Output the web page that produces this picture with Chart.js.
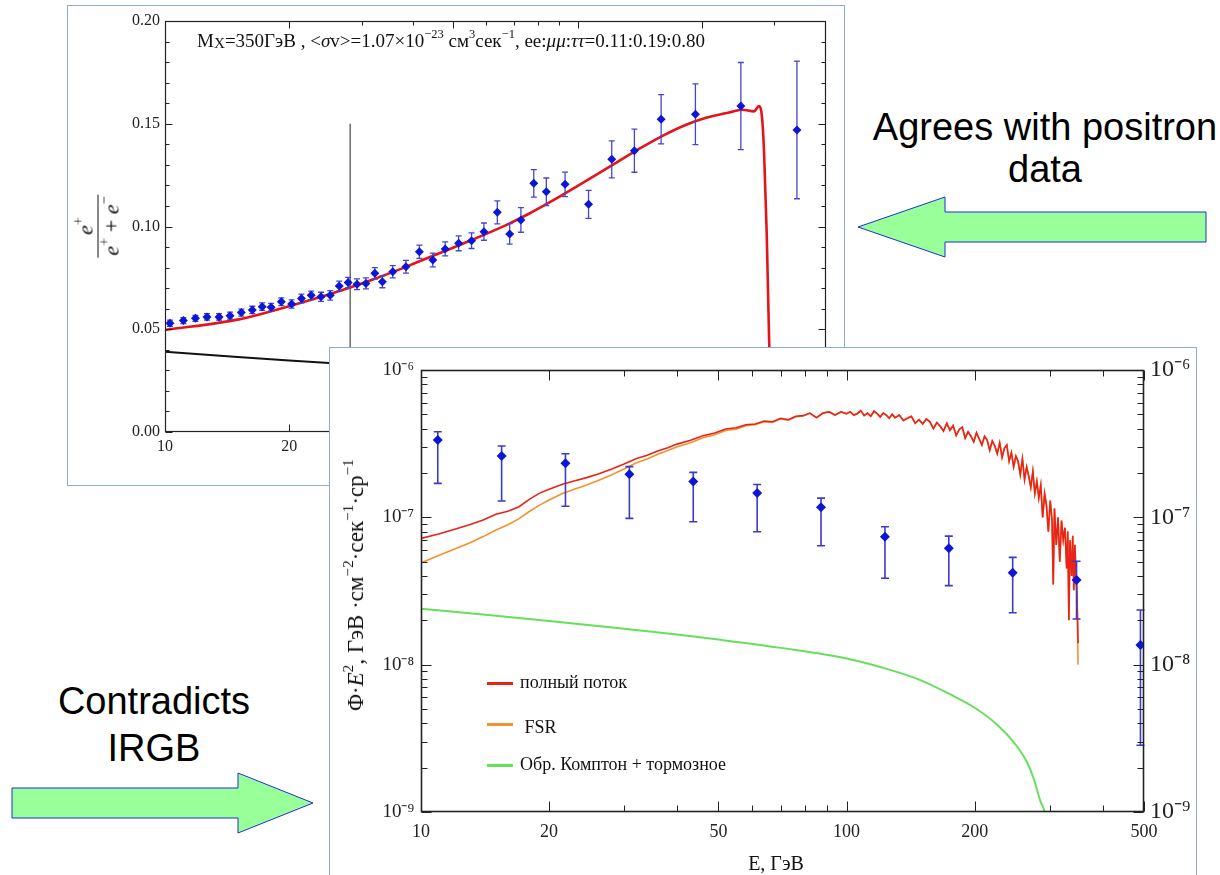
<!DOCTYPE html>
<html lang="ru">
<head>
<meta charset="utf-8">
<title>Positron fraction and gamma-ray flux</title>
<script src="https://cdn.jsdelivr.net/npm/chart.js"></script>
<style>
  html, body { margin: 0; padding: 0; background: #fff; }
  #slide { position: relative; width: 1220px; height: 875px; overflow: hidden;
           font-family: 'Liberation Serif', 'Times New Roman', serif; color: #111; }
  #arrows { position: absolute; left: 0; top: 0; }
  .note { position: absolute; font-family: 'Liberation Sans', Arial, sans-serif;
          font-size: 38px; text-align: center; color: #000; white-space: nowrap; }
  .panel { position: absolute; box-sizing: border-box; border: 1px solid #8eaad6; background: #fff; }
  .panel canvas { position: absolute; left: 0; top: 0; }
  .panel .txt { position: absolute; white-space: nowrap; }
  sup { font-size: 0.66em; line-height: 0; position: relative; top: -0.1em; vertical-align: super; }
  sub { font-size: 0.8em; line-height: 0; vertical-align: baseline; position: relative; top: 0.05em; }
  #fracCaption { left: 129px; top: 25px; font-size: 19px; line-height: 19px; }
  #fracYLabel { left: 30px; top: 220px; transform: translate(-50%, -50%) rotate(-90deg);
                display: flex; flex-direction: column; align-items: center; font-size: 22px; line-height: 25px; }
  #fracYLabel .den { border-top: 1px solid #111; padding: 0 2px; }
  #gammaYLabel { left: 26px; top: 237px; transform: translate(-50%, -50%) rotate(-90deg); font-size: 23px; line-height: 24px; }
  #gammaXLabel { left: 346px; top: 505px; width: 200px; text-align: center; font-size: 20px; line-height: 20px; }
  .key { position: absolute; left: 157px; width: 26px; height: 3px; }
  .keytxt { left: 190px; font-size: 18px; line-height: 20px; }
</style>
</head>
<body>
<div id="slide">
  <svg id="arrows" width="1220" height="875">
    <polygon points="858,227 945,197 945,212 1206,212 1206,242 945,242 945,257" fill="#99ff99" stroke="#1a2ee0" stroke-width="1"/>
    <polygon points="313,803 238,773 238,788 12,788 12,818 238,818 238,833" fill="#99ff99" stroke="#1a2ee0" stroke-width="1"/>
  </svg>
  <div class="note" style="left:860px; top:106px; width:370px; line-height:42px;">Agrees with positron<br>data</div>
  <div class="note" style="left:4px; top:678px; width:300px; line-height:47px;">Contradicts<br>IRGB</div>

  <div class="panel" id="fracPanel" style="left:67px; top:5px; width:778px; height:481px; z-index:1;">
    <canvas id="fracChart" width="776" height="479"></canvas>
    <div class="txt" id="fracCaption">M<sub>X</sub>=350ГэВ , &lt;<i>σ</i>v&gt;=1.07×10<sup>−23</sup> см<sup>3</sup>сек<sup>−1</sup>, ee:<i>μμ</i>:<i>ττ</i>=0.11:0.19:0.80</div>
    <div class="txt" id="fracYLabel"><span class="num"><i>e</i><sup>+</sup></span><span class="den"><i>e</i><sup>+</sup> + <i>e</i><sup>−</sup></span></div>
  </div>

  <div class="panel" id="gammaPanel" style="left:329px; top:347px; width:868px; height:540px; z-index:2;">
    <canvas id="gammaChart" width="866" height="527"></canvas>
    <div class="txt" id="gammaYLabel">Φ·<i>E</i><sup>2</sup>, ГэВ ·см<sup>−2</sup>·сек<sup>−1</sup>·ср<sup>−1</sup></div>
    <div class="txt" id="gammaXLabel">E, ГэВ</div>
    <div class="key" style="top:334px; background:#e8231a;"></div>
    <div class="txt keytxt" style="top:324px;">полный поток</div>
    <div class="key" style="top:375px; background:#f0922e;"></div>
    <div class="txt keytxt" style="top:369px;">&nbsp;FSR</div>
    <div class="key" style="top:416px; background:#66e05a;"></div>
    <div class="txt keytxt" style="top:406px;">Обр. Комптон + тормозное</div>
  </div>
</div>

<script>
// ---- positron fraction panel ----
const posE = [10.28, 11.08, 11.85, 12.64, 13.52, 14.38, 15.31, 16.28, 17.20, 18.08,
              19.14, 20.27, 21.41, 22.61, 23.88, 25.15, 26.44, 27.79, 29.20, 30.69,
              32.25, 33.64, 35.64, 38.37, 41.36, 44.57, 47.76, 51.48, 55.33, 59.29,
              63.89, 68.45, 72.88, 78.31, 83.99, 93.25, 106.3, 121.0, 137.3, 159.4,
              193.0, 248.7, 340.1];
const posFrac = [0.0529, 0.0542, 0.0553, 0.0560, 0.0560, 0.0566, 0.0581, 0.0594, 0.0610, 0.0607,
                 0.0634, 0.0623, 0.0650, 0.0665, 0.0658, 0.0665, 0.0710, 0.0727, 0.0719, 0.0723,
                 0.0772, 0.0731, 0.0780, 0.0804, 0.0877, 0.0837, 0.0891, 0.0918, 0.0931, 0.0975,
                 0.1069, 0.0964, 0.1032, 0.1210, 0.1169, 0.1205, 0.1108, 0.1327, 0.1369, 0.1522,
                 0.1546, 0.1586, 0.1470];
const posErr = [0.0015, 0.0015, 0.0015, 0.0016, 0.0016, 0.0017, 0.0017, 0.0018, 0.0018, 0.0019,
                0.0019, 0.0020, 0.0021, 0.0021, 0.0022, 0.0023, 0.0024, 0.0025, 0.0026, 0.0027,
                0.0028, 0.0029, 0.0030, 0.0031, 0.0032, 0.0033, 0.0034, 0.0036, 0.0038, 0.0042,
                0.0056, 0.0050, 0.0060, 0.0067, 0.0067, 0.0060, 0.0068, 0.0090, 0.0105, 0.0120,
                0.0148, 0.0212, 0.0335];
const modelE = [10, 15.1, 19.4, 24.8, 28.1, 31.9, 36.9, 40.8, 52.5, 67.3,
                76.2, 86.3, 97.8, 110.6, 125.3, 141.6, 160.2, 182.1, 205.9, 232.8,
                250.3, 267.6, 275.2, 279.9, 283.0, 287.3, 291.5, 296];
const modelFrac = [0.0496, 0.0548, 0.0605, 0.0668, 0.0703, 0.0742, 0.0790, 0.0826, 0.0915, 0.1008,
                   0.1062, 0.1122, 0.1186, 0.1250, 0.1316, 0.1380, 0.1440, 0.1493, 0.1530, 0.1555,
                   0.1568, 0.1560, 0.1586, 0.1530, 0.1370, 0.0970, 0.0410, 0];
const bgE = [10, 15, 20, 25, 30, 40];
const bgFrac = [0.0390, 0.0365, 0.0348, 0.0336, 0.0327, 0.0310];
const markerE = 28.1;
const markerTop = 0.15;

const fracXTicks = [10, 20, 50, 100, 200];
const fracXLabels = ['10', '20', '50', '100', '200'];
const fracXMinor = [30, 40, 60, 70, 80, 90, 300];
const fracYTicks = [0, 0.05, 0.10, 0.15, 0.20];
const fracYLabels = ['0.00', '0.05', '0.10', '0.15', '0.20'];
const fracYMinor = [0.01, 0.02, 0.03, 0.04, 0.06, 0.07, 0.08, 0.09,
                    0.11, 0.12, 0.13, 0.14, 0.16, 0.17, 0.18, 0.19];

// ---- gamma-ray flux panel ----
const gammaE = [10, 11, 12, 13, 14, 15, 16, 17, 18, 19,
                20, 21.5, 23, 24.5, 26, 28, 30, 32, 34, 36,
                38, 40, 43, 46, 49, 52, 55, 58, 61, 64,
                67, 70, 73, 76, 79, 82, 85, 88, 91, 94,
                97, 100,
                102, 104, 106, 108, 110, 112, 114, 116, 118, 120, 122, 124, 126, 128, 130,
                133, 136, 139, 142, 145, 148, 151, 154, 157, 160,
                163, 166, 169, 172, 175, 178, 181, 184, 187, 190,
                193, 196, 199, 202, 205, 208, 211, 214, 217, 220,
                223, 226, 229, 232, 235, 238, 241, 244, 247, 250,
                253, 256, 259, 262, 265, 268, 271, 274, 277, 280,
                283, 286, 289, 292, 295, 298, 301, 304,
                306, 308, 311, 314, 317, 320, 323, 326, 329, 331,
                333, 335, 338, 340, 342, 344, 346, 348, 350];
const totalFlux = [7.2e-8, 7.7e-8, 8.3e-8, 8.9e-8, 9.6e-8, 1.05e-7, 1.1e-7, 1.18e-7, 1.33e-7, 1.46e-7,
                   1.55e-7, 1.68e-7, 1.77e-7, 1.86e-7, 1.96e-7, 2.12e-7, 2.3e-7, 2.5e-7, 2.64e-7, 2.82e-7,
                   2.97e-7, 3.14e-7, 3.33e-7, 3.58e-7, 3.74e-7, 3.98e-7, 4.05e-7, 4.25e-7, 4.3e-7, 4.5e-7,
                   4.45e-7, 4.7e-7, 4.6e-7, 4.85e-7, 4.9e-7, 5.1e-7, 4.75e-7, 5.1e-7, 5.2e-7, 4.95e-7,
                   5.2e-7, 5.05e-7,
                   5.2e-7, 4.95e-7, 5.05e-7, 5.3e-7, 4.9e-7, 5.1e-7, 4.85e-7, 5.25e-7, 5.05e-7, 4.8e-7,
                   5.1e-7, 4.95e-7, 4.7e-7, 5.0e-7, 4.75e-7,
                   4.95e-7, 4.55e-7, 4.7e-7, 4.85e-7, 4.35e-7, 4.6e-7, 4.3e-7, 4.65e-7, 4.45e-7, 4.0e-7,
                   4.4e-7, 4.15e-7, 3.85e-7, 4.35e-7, 3.9e-7, 4.2e-7, 3.6e-7, 3.95e-7, 4.1e-7, 3.45e-7,
                   3.8e-7, 3.55e-7, 3.25e-7, 3.75e-7, 3.4e-7, 3.1e-7, 3.55e-7, 3.35e-7, 2.85e-7, 3.3e-7,
                   3.05e-7, 2.7e-7, 3.2e-7, 2.55e-7, 2.95e-7, 3.1e-7, 2.4e-7, 2.75e-7, 2.2e-7, 2.6e-7,
                   2.4e-7, 1.95e-7, 2.5e-7, 1.8e-7, 2.2e-7, 1.9e-7, 1.6e-7, 2.05e-7, 1.45e-7, 1.75e-7,
                   1.35e-7, 1.65e-7, 1.0e-7, 1.45e-7, 1.2e-7, 8.0e-8, 1.3e-7, 9.5e-8,
                   3.5e-8, 1.15e-7, 6.5e-8, 1.0e-7, 5.0e-8, 9.5e-8, 7.0e-8, 8.5e-8, 4.5e-8, 8.0e-8,
                   2.0e-8, 7.0e-8, 4.0e-8, 7.5e-8, 3.2e-8, 6.5e-8, 4.2e-8, 3.0e-8, 1.4e-8];
const fsrFlux = [4.9e-8, 5.5e-8, 6.1e-8, 6.7e-8, 7.4e-8, 8.2e-8, 8.9e-8, 9.8e-8, 1.1e-7, 1.21e-7,
                 1.31e-7, 1.45e-7, 1.56e-7, 1.66e-7, 1.77e-7, 1.94e-7, 2.13e-7, 2.34e-7, 2.49e-7, 2.68e-7,
                 2.84e-7, 3.01e-7, 3.21e-7, 3.47e-7, 3.64e-7, 3.89e-7, 3.97e-7, 4.18e-7, 4.25e-7, 4.45e-7,
                 4.41e-7, 4.66e-7, 4.57e-7, 4.82e-7, 4.88e-7, 5.08e-7, 4.74e-7, 5.09e-7, 5.19e-7, 4.94e-7,
                 5.19e-7, 5.04e-7,
                 5.2e-7, 4.95e-7, 5.05e-7, 5.3e-7, 4.9e-7, 5.1e-7, 4.85e-7, 5.25e-7, 5.05e-7, 4.8e-7,
                 5.1e-7, 4.95e-7, 4.7e-7, 5.0e-7, 4.75e-7,
                 4.95e-7, 4.55e-7, 4.7e-7, 4.85e-7, 4.35e-7, 4.6e-7, 4.3e-7, 4.65e-7, 4.45e-7, 4.0e-7,
                 4.4e-7, 4.15e-7, 3.85e-7, 4.35e-7, 3.9e-7, 4.2e-7, 3.6e-7, 3.95e-7, 4.1e-7, 3.45e-7,
                 3.8e-7, 3.55e-7, 3.25e-7, 3.75e-7, 3.4e-7, 3.1e-7, 3.55e-7, 3.35e-7, 2.85e-7, 3.3e-7,
                 3.05e-7, 2.7e-7, 3.2e-7, 2.55e-7, 2.95e-7, 3.1e-7, 2.4e-7, 2.75e-7, 2.2e-7, 2.6e-7,
                 2.4e-7, 1.95e-7, 2.5e-7, 1.8e-7, 2.2e-7, 1.9e-7, 1.6e-7, 2.05e-7, 1.45e-7, 1.75e-7,
                 1.35e-7, 1.65e-7, 1.0e-7, 1.45e-7, 1.2e-7, 8.0e-8, 1.3e-7, 9.5e-8,
                 3.5e-8, 1.15e-7, 6.5e-8, 1.0e-7, 5.0e-8, 9.5e-8, 7.0e-8, 8.5e-8, 4.5e-8, 8.0e-8,
                 2.0e-8, 7.0e-8, 4.0e-8, 7.5e-8, 3.2e-8, 6.5e-8, 4.2e-8, 2.8e-8, 1.0e-8];
const icE = [10, 15, 20, 30, 40, 50, 70, 100, 130, 150, 175, 200, 225, 250, 265, 275, 285, 292, 296];
const icFlux = [2.4e-8, 2.15e-8, 1.98e-8, 1.75e-8, 1.6e-8, 1.48e-8, 1.3e-8, 1.1e-8, 9.0e-9, 7.8e-9,
                6.3e-9, 5.1e-9, 3.95e-9, 2.85e-9, 2.2e-9, 1.7e-9, 1.2e-9, 1.0e-9, 8e-10];
const irgbE = [10.95, 15.47, 21.85, 30.88, 43.63, 61.65, 87.1, 123.1, 173.9, 245.7, 347.1, 490.5];
const irgbFlux = [3.35e-7, 2.61e-7, 2.33e-7, 1.96e-7, 1.75e-7, 1.46e-7, 1.17e-7, 7.38e-8, 6.17e-8, 4.21e-8, 3.75e-8, 1.36e-8];
const irgbHi = [3.81e-7, 3.05e-7, 2.70e-7, 2.21e-7, 2.02e-7, 1.67e-7, 1.35e-7, 8.63e-8, 7.46e-8, 5.35e-8, 5.04e-8, 2.35e-8];
const irgbLo = [1.70e-7, 1.29e-7, 1.19e-7, 9.84e-8, 9.33e-8, 7.98e-8, 6.41e-8, 3.86e-8, 3.44e-8, 2.25e-8, 2.04e-8, 2.84e-9];

const gammaXTicks = [10, 20, 50, 100, 200, 500];
const gammaXLabels = ['10', '20', '50', '100', '200', '500'];
const gammaXMinor = [30, 40, 60, 70, 80, 90, 300, 400];
const gammaYTicks = [1e-9, 1e-8, 1e-7, 1e-6];
const gammaYLabels = ['10⁻⁹', '10⁻⁸', '10⁻⁷', '10⁻⁶'];
const gammaYMinor = [2e-9, 3e-9, 4e-9, 5e-9, 6e-9, 7e-9, 8e-9, 9e-9,
                     2e-8, 3e-8, 4e-8, 5e-8, 6e-8, 7e-8, 8e-8, 9e-8,
                     2e-7, 3e-7, 4e-7, 5e-7, 6e-7, 7e-7, 8e-7, 9e-7];

const SERIF = "'Liberation Serif', 'Times New Roman', serif";
Chart.defaults.font.family = SERIF;
Chart.defaults.color = '#222';

const pts = (xs, ys) => xs.map((x, i) => ({ x, y: ys[i] }));

// inward ticks on all four sides plus the box, Mathematica style
const frameTicks = {
  id: 'frameTicks',
  afterDatasetsDraw(chart, args, o) {
    const { ctx, chartArea: a } = chart;
    const xs = chart.scales.x, ys = chart.scales.y;
    const L = Math.round(a.left) + 0.5, R = Math.round(a.right) - 0.5;
    const T = Math.round(a.top) + 0.5, B = Math.round(a.bottom) - 0.5;
    ctx.save();
    ctx.strokeStyle = o.color;
    ctx.lineWidth = 1;
    ctx.beginPath();
    const xMark = (v, len) => {
      const p = Math.round(xs.getPixelForValue(v)) + 0.5;
      ctx.moveTo(p, B); ctx.lineTo(p, B - len);
      ctx.moveTo(p, T); ctx.lineTo(p, T + len);
    };
    const yMark = (v, len) => {
      const p = Math.round(ys.getPixelForValue(v)) + 0.5;
      ctx.moveTo(L, p); ctx.lineTo(L + len, p);
      ctx.moveTo(R, p); ctx.lineTo(R - len, p);
    };
    o.xMajor.forEach(v => xMark(v, o.major));
    o.xMinor.forEach(v => xMark(v, o.minor));
    o.yMajor.forEach(v => yMark(v, o.major));
    o.yMinor.forEach(v => yMark(v, o.minor));
    ctx.stroke();
    ctx.lineWidth = o.boxWidth;
    ctx.strokeRect(L, T, R - L, B - T);
    ctx.restore();
  }
};

// vertical error bars with caps, drawn just under the markers
const errorBars = {
  id: 'errorBars',
  beforeDatasetDraw(chart, args) {
    const ds = chart.data.datasets[args.index];
    if (!ds.errLo) return;
    const { ctx } = chart;
    const xs = chart.scales.x, ys = chart.scales.y;
    ctx.save();
    ctx.strokeStyle = ds.errColor;
    ctx.lineWidth = ds.errWidth;
    ctx.beginPath();
    ds.data.forEach((p, i) => {
      const x = xs.getPixelForValue(p.x);
      const y1 = ys.getPixelForValue(ds.errLo[i]);
      const y2 = ys.getPixelForValue(ds.errHi[i]);
      ctx.moveTo(x, y1); ctx.lineTo(x, y2);
      ctx.moveTo(x - ds.cap, y1); ctx.lineTo(x + ds.cap, y1);
      ctx.moveTo(x - ds.cap, y2); ctx.lineTo(x + ds.cap, y2);
    });
    ctx.stroke();
    ctx.restore();
  }
};

const quietGrid = { display: false, drawTicks: false };

new Chart(document.getElementById('fracChart'), {
  type: 'scatter',
  data: {
    datasets: [
      {
        label: 'AMS-02',
        data: pts(posE, posFrac),
        errLo: posFrac.map((v, i) => v - posErr[i]),
        errHi: posFrac.map((v, i) => v + posErr[i]),
        errColor: '#4646cc', errWidth: 1.3, cap: 3,
        pointStyle: 'rectRot', pointRadius: 4.5, backgroundColor: '#0b16d6', borderWidth: 0
      },
      {
        label: 'model',
        data: pts(modelE, modelFrac),
        showLine: true, borderColor: '#e2151b', borderWidth: 2.6, pointRadius: 0,
        cubicInterpolationMode: 'monotone', fill: false
      },
      {
        label: 'background',
        data: pts(bgE, bgFrac),
        showLine: true, borderColor: '#111', borderWidth: 2, pointRadius: 0, fill: false
      },
      {
        label: 'marker',
        data: [{ x: markerE, y: 0 }, { x: markerE, y: markerTop }],
        showLine: true, borderColor: '#222', borderWidth: 1, pointRadius: 0, fill: false
      }
    ]
  },
  options: {
    responsive: false,
    animation: false,
    devicePixelRatio: 1,
    layout: { padding: { left: 0, right: 18, top: 15, bottom: 0 } },
    plugins: {
      legend: { display: false },
      tooltip: { enabled: false },
      frameTicks: { xMajor: fracXTicks, xMinor: fracXMinor, yMajor: fracYTicks, yMinor: fracYMinor,
                    major: 7, minor: 4, color: '#222', boxWidth: 1.2 }
    },
    scales: {
      x: {
        type: 'logarithmic', min: 10, max: 400,
        grid: quietGrid, border: { display: false },
        ticks: { font: { size: 16 }, padding: 5, autoSkip: false, maxRotation: 0,
                 callback: (v, i) => fracXLabels[i] },
        afterBuildTicks: s => { s.ticks = fracXTicks.map(value => ({ value })); },
        afterFit: s => { s.height = 53; }
      },
      y: {
        min: 0, max: 0.2,
        grid: quietGrid, border: { display: false },
        ticks: { font: { size: 16 }, padding: 5, autoSkip: false,
                 callback: (v, i) => fracYLabels[i] },
        afterBuildTicks: s => { s.ticks = fracYTicks.map(value => ({ value })); },
        afterFit: s => { s.width = 97; }
      }
    }
  },
  plugins: [frameTicks, errorBars]
});

new Chart(document.getElementById('gammaChart'), {
  type: 'scatter',
  data: {
    datasets: [
      {
        label: 'IRGB',
        data: pts(irgbE, irgbFlux),
        errLo: irgbLo, errHi: irgbHi,
        errColor: '#3b3bc4', errWidth: 1.6, cap: 4,
        pointStyle: 'rectRot', pointRadius: 5, backgroundColor: '#0b16d6', borderWidth: 0
      },
      {
        label: 'полный поток',
        data: pts(gammaE, totalFlux),
        showLine: true, borderColor: '#e8231a', borderWidth: 1.6, pointRadius: 0, fill: false
      },
      {
        label: 'FSR',
        data: pts(gammaE, fsrFlux),
        showLine: true, borderColor: '#f0922e', borderWidth: 1.6, pointRadius: 0, fill: false
      },
      {
        label: 'Обр. Комптон + тормозное',
        data: pts(icE, icFlux),
        showLine: true, borderColor: '#66e05a', borderWidth: 2, pointRadius: 0, fill: false,
        cubicInterpolationMode: 'monotone'
      }
    ]
  },
  options: {
    responsive: false,
    animation: false,
    devicePixelRatio: 1,
    layout: { padding: { left: 0, right: 0, top: 22, bottom: 0 } },
    plugins: {
      legend: { display: false },
      tooltip: { enabled: false },
      frameTicks: { xMajor: gammaXTicks, xMinor: gammaXMinor, yMajor: gammaYTicks, yMinor: gammaYMinor,
                    major: 10, minor: 6, color: '#222', boxWidth: 1.6 }
    },
    scales: {
      x: {
        type: 'logarithmic', min: 10, max: 500,
        grid: quietGrid, border: { display: false },
        ticks: { font: { size: 18 }, padding: 9, autoSkip: false, maxRotation: 0,
                 callback: (v, i) => gammaXLabels[i] },
        afterBuildTicks: s => { s.ticks = gammaXTicks.map(value => ({ value })); },
        afterFit: s => { s.height = 63; }
      },
      y: {
        type: 'logarithmic', min: 1e-9, max: 1e-6,
        grid: quietGrid, border: { display: false },
        ticks: { font: { size: 19 }, padding: 7, autoSkip: false,
                 callback: (v, i) => gammaYLabels[i] },
        afterBuildTicks: s => { s.ticks = gammaYTicks.map(value => ({ value })); },
        afterFit: s => { s.width = 91; }
      },
      y2: {
        type: 'logarithmic', position: 'right', min: 1e-9, max: 1e-6,
        grid: quietGrid, border: { display: false },
        ticks: { font: { size: 24 }, padding: 6, autoSkip: false,
                 callback: (v, i) => gammaYLabels[i] },
        afterBuildTicks: s => { s.ticks = gammaYTicks.map(value => ({ value })); },
        afterFit: s => { s.width = 52; }
      }
    }
  },
  plugins: [frameTicks, errorBars]
});
</script>
</body>
</html>
